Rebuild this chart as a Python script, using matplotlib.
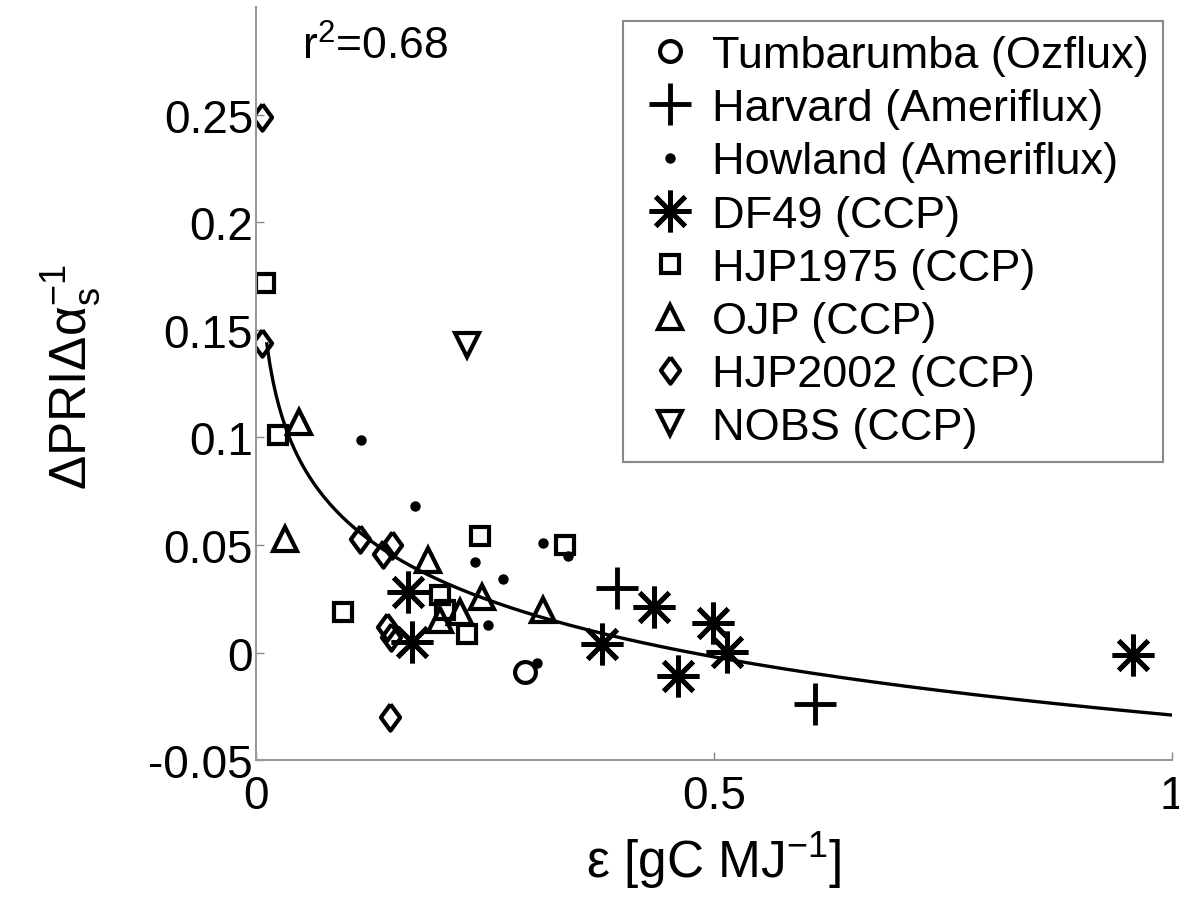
import numpy as np
import matplotlib
matplotlib.use('Agg')
import matplotlib.pyplot as plt

plt.rcParams['font.family'] = ['Liberation Sans', 'DejaVu Sans']
plt.rcParams['mathtext.fontset'] = 'custom'
plt.rcParams['mathtext.rm'] = 'Liberation Sans'
plt.rcParams['mathtext.it'] = 'Liberation Sans:italic'

# data
tumb_x = [0.294]
tumb_y = [-0.009]
harv_x = [0.394, 0.610]
harv_y = [0.030, -0.024]
howl_x = [0.115, 0.174, 0.239, 0.270, 0.253, 0.313, 0.341, 0.307]
howl_y = [0.099, 0.068, 0.042, 0.034, 0.013, 0.051, 0.045, -0.005]
df49_x = [0.166, 0.170, 0.378, 0.435, 0.461, 0.499, 0.514, 0.957]
df49_y = [0.028, 0.005, 0.004, 0.021, -0.011, 0.014, 0.0005, -0.001]
hjp75_x = [0.010, 0.024, 0.095, 0.245, 0.201, 0.231, 0.337, 0.206]
hjp75_y = [0.172, 0.101, 0.019, 0.054, 0.027, 0.0085, 0.050, 0.020]
ojp_x = [0.047, 0.032, 0.188, 0.247, 0.313, 0.223, 0.201]
ojp_y = [0.107, 0.053, 0.043, 0.026, 0.020, 0.019, 0.015]
hjp02_x = [0.007, 0.007, 0.114, 0.139, 0.149, 0.143, 0.148, 0.146]
hjp02_y = [0.249, 0.144, 0.053, 0.046, 0.050, 0.012, 0.0075, -0.030]
nobs_x = [0.230]
nobs_y = [0.143]

# log fit y = a*ln(x) + b
fit_a = -0.039
fit_b = -0.029
fit_xmin = 0.012

labels = ['Tumbarumba (Ozflux)', 'Harvard (Ameriflux)', 'Howland (Ameriflux)',
          'DF49 (CCP)', 'HJP1975 (CCP)', 'OJP (CCP)', 'HJP2002 (CCP)', 'NOBS (CCP)']

diamond = [(0, 1), (0.73, 0), (0, -1), (-0.73, 0), (0, 1)]

fig = plt.figure(figsize=(11.79, 9.03), dpi=100)
ax = fig.add_axes([0.217, 0.157, 0.777, 0.834])

k = dict(linestyle='none', color='k', markerfacecolor='none', markeredgewidth=3.0)
ax.plot(tumb_x, tumb_y, marker='o', markersize=15, label=labels[0], **k)
ax.plot(harv_x, harv_y, marker='+', markersize=30, label=labels[1],
        **{**k, 'markeredgewidth': 3.5})
ax.plot(howl_x, howl_y, linestyle='none', marker='o', markersize=7.5, color='k',
        markeredgewidth=0, label=labels[2])
ax.plot(df49_x, df49_y, marker=(8, 2, 0), markersize=30, label=labels[3],
        **{**k, 'markeredgewidth': 3.5})
ax.plot(hjp75_x, hjp75_y, marker='s', markersize=13, label=labels[4], **k)
ax.plot(ojp_x, ojp_y, marker='^', markersize=17, label=labels[5], **k)
ax.plot(hjp02_x, hjp02_y, marker=diamond, markersize=19, label=labels[6], **k)
ax.plot(nobs_x, nobs_y, marker='v', markersize=17, label=labels[7], **k)

xf = np.linspace(fit_xmin, 1, 300)
ax.plot(xf, fit_a * np.log(xf) + fit_b, color='k', linewidth=2.4)

ax.set_xlim(0, 1)
ax.set_ylim(-0.05, 0.30)
ax.set_xticks([0, 0.5, 1])
ax.set_xticklabels(['0', '0.5', '1'])
ax.set_yticks([-0.05, 0, 0.05, 0.1, 0.15, 0.2, 0.25])
ax.set_yticklabels(['-0.05', '0', '0.05', '0.1', '0.15', '0.2', '0.25'])
ax.tick_params(direction='in', length=6, width=1, color='#888888', labelsize=33)
ax.tick_params(axis='x', pad=10)
ax.tick_params(axis='y', pad=2)

for s in ['top', 'right']:
    ax.spines[s].set_visible(False)
for s in ['left', 'bottom']:
    ax.spines[s].set_color('#999999')
    ax.spines[s].set_linewidth(1.5)

ax.set_xlabel(r'ε [gC MJ$^\mathregular{-1}$]', fontsize=37)
ax.xaxis.set_label_coords(0.5, -0.092)
ax.set_ylabel(r'ΔPRIΔα$_\mathregular{s}^\mathregular{-1}$', fontsize=37)
ax.yaxis.set_label_coords(-0.167, 0.51)

ax.text(0.05, 0.977, r'r$^\mathregular{2}$=0.68', transform=ax.transAxes,
        fontsize=32, va='top', ha='left')

leg = ax.legend(loc='upper right', bbox_to_anchor=(0.990, 0.981), borderaxespad=0,
                fontsize=32.5, fancybox=False, framealpha=1, edgecolor='#888888',
                labelspacing=0.27, handlelength=1.49, handletextpad=0.19,
                borderpad=0.3, numpoints=1)
leg.get_frame().set_linewidth(1.5)

plt.savefig('out.png', dpi=100)
